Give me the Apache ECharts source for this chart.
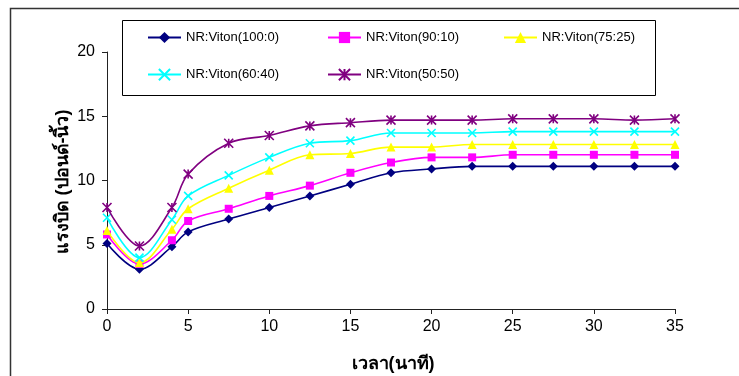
<!DOCTYPE html>
<html>
<head>
<meta charset="utf-8">
<script src="https://cdn.jsdelivr.net/npm/echarts@6/dist/echarts.min.js"></script>
<style>
  html, body { margin: 0; padding: 0; background: #fff; }
  #chart { width: 739px; height: 376px; }
</style>
</head>
<body>
<div id="chart"></div>
<script>
// Torque vs time for NR:Viton blends
const times = [0, 2, 4, 5, 7.5, 10, 12.5, 15, 17.5, 20, 22.5, 25, 27.5, 30, 32.5, 35];
const blend100_0 = [5.1, 3.1, 4.85, 6.0, 7.0, 7.9, 8.8, 9.7, 10.6, 10.9, 11.1, 11.1, 11.1, 11.1, 11.1, 11.1];
const blend90_10 = [5.8, 3.5, 5.35, 6.85, 7.8, 8.8, 9.6, 10.6, 11.4, 11.8, 11.8, 12.0, 12.0, 12.0, 12.0, 12.0];
const blend75_25 = [6.1, 3.6, 6.2, 7.8, 9.4, 10.8, 12.0, 12.1, 12.6, 12.6, 12.8, 12.8, 12.8, 12.8, 12.8, 12.8];
const blend60_40 = [7.1, 4.0, 6.95, 8.8, 10.4, 11.8, 12.9, 13.1, 13.7, 13.7, 13.7, 13.8, 13.8, 13.8, 13.8, 13.8];
const blend50_50 = [7.9, 4.9, 7.9, 10.5, 12.9, 13.5, 14.25, 14.5, 14.7, 14.7, 14.7, 14.8, 14.8, 14.8, 14.7, 14.8];
const seriesNames = ['NR:Viton(100:0)', 'NR:Viton(90:10)', 'NR:Viton(75:25)', 'NR:Viton(60:40)', 'NR:Viton(50:50)'];
const xTitle = 'เวลา(นาที)';
const yTitle = 'แรงบิด (ปอนด์-นิ้ว)';

const FONT = '"Liberation Sans", Arial, sans-serif';
const crossPath = 'path://M0,0L10,10M10,0L0,10';
const starPath = 'path://M0,0L10,10M10,0L0,10M5,0L5,10';

function pairs(vals) { return times.map((t, i) => [t, vals[i]]); }

const styles = [
  { data: blend100_0, color: '#000080', symbol: 'diamond', size: 9, stroke: false },
  { data: blend90_10, color: '#FF00FF', symbol: 'rect', size: 8, stroke: false },
  { data: blend75_25, color: '#FFFF00', symbol: 'triangle', size: 9, stroke: false },
  { data: blend60_40, color: '#00FFFF', symbol: crossPath, size: 8, stroke: true },
  { data: blend50_50, color: '#800080', symbol: starPath, size: 9, stroke: true }
];

const series = styles.map((s, i) => ({
  name: seriesNames[i],
  type: 'line',
  smooth: 0.35,
  data: pairs(s.data),
  symbol: s.symbol,
  symbolSize: s.size,
  showAllSymbol: true,
  lineStyle: { color: s.color, width: 1.6 },
  itemStyle: s.stroke
    ? { color: s.color, borderColor: s.color, borderWidth: 1.6 }
    : { color: s.color, borderWidth: 0 },
  emphasis: { disabled: true },
  z: 2 + i
}));

function legendColumn(names, left) {
  return {
    orient: 'vertical',
    left: left,
    top: 31,
    itemWidth: 33,
    itemHeight: 14,
    itemGap: 24,
    padding: 0,
    data: names,
    textStyle: { fontFamily: FONT, fontSize: 13, color: '#000' }
  };
}

const chart = echarts.init(document.getElementById('chart'), null, { renderer: 'canvas' });
chart.setOption({
  animation: false,
  backgroundColor: '#fff',
  grid: { left: 107, right: 64, top: 52, bottom: 67, containLabel: false },
  legend: [
    legendColumn([seriesNames[0], seriesNames[3]], 147),
    legendColumn([seriesNames[1], seriesNames[4]], 327),
    legendColumn([seriesNames[2]], 503)
  ],
  xAxis: {
    type: 'value', min: 0, max: 35, interval: 5,
    axisLine: { lineStyle: { color: '#222', width: 1 } },
    axisTick: { show: true, length: 5, lineStyle: { color: '#222' } },
    axisLabel: { fontFamily: FONT, fontSize: 16, color: '#000', margin: 10 },
    splitLine: { show: false }
  },
  yAxis: {
    type: 'value', min: 0, max: 20, interval: 5,
    axisLine: { show: true, lineStyle: { color: '#222', width: 1 } },
    axisTick: { show: true, length: 5, lineStyle: { color: '#222' } },
    axisLabel: { fontFamily: FONT, fontSize: 16, color: '#000', margin: 12 },
    splitLine: { show: false }
  },
  graphic: [
    {
      type: 'rect', silent: true, z: -1,
      shape: { x: 10.5, y: 8.5, width: 900, height: 600 },
      style: { fill: 'none', stroke: '#333', lineWidth: 1.5 }
    },
    {
      type: 'rect', silent: true, z: 0,
      shape: { x: 122.5, y: 20.5, width: 533, height: 75 },
      style: { fill: 'none', stroke: '#000', lineWidth: 1 }
    },
    {
      type: 'text', silent: true,
      x: 393, y: 364,
      style: { text: xTitle, fontFamily: FONT, fontSize: 18, fontWeight: 'bold', fill: '#000',
               align: 'center', verticalAlign: 'middle' }
    },
    {
      type: 'text', silent: true,
      x: 63, y: 182, rotation: Math.PI / 2,
      style: { text: yTitle, fontFamily: FONT, fontSize: 18, fontWeight: 'bold', fill: '#000',
               align: 'center', verticalAlign: 'middle' }
    }
  ],
  series: series
});
</script>
</body>
</html>
